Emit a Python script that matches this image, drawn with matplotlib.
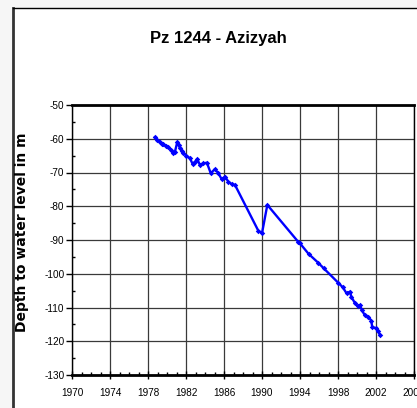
import numpy as np
import matplotlib
matplotlib.use("Agg")
import matplotlib.pyplot as plt
from matplotlib.patches import Rectangle
from matplotlib.lines import Line2D
from matplotlib.ticker import MultipleLocator

plt.rcParams["axes.unicode_minus"] = False

# ── Daten ─────────────────────────────────────────────────────────────────────
years = [1978.70, 1978.95, 1979.26, 1979.45, 1979.60, 1979.85, 1980.10, 1980.40,
         1980.67, 1980.84, 1981.09, 1981.25, 1981.37, 1981.55, 1981.72, 1982.05,
         1982.42, 1982.70, 1982.95, 1983.20, 1983.47, 1983.80, 1984.20, 1984.60,
         1985.05, 1985.40, 1985.76, 1986.10, 1986.45, 1986.80, 1987.16,
         1989.60, 1990.00, 1990.56, 1993.80, 1994.00, 1994.90, 1995.90, 1996.50,
         1998.00, 1998.50, 1998.90, 1999.26, 1999.40, 1999.80, 2000.10, 2000.30,
         2000.50, 2000.80, 2001.20, 2001.50, 2001.60, 2002.00, 2002.25, 2002.40]
depth = [-59.6, -60.3, -60.9, -61.5, -61.6, -62.0, -62.4, -63.2,
         -64.3, -63.8, -60.9, -61.8, -62.8, -63.6, -64.3, -65.0,
         -65.8, -67.5, -66.8, -66.1, -67.8, -67.3, -67.1, -70.2,
         -69.0, -70.2, -72.0, -71.2, -72.7, -73.4, -73.7,
         -87.2, -88.0, -79.6, -90.5, -91.0, -94.1, -96.7, -98.4,
         -102.6, -104.0, -105.8, -105.3, -106.8, -108.8, -109.6, -109.3,
         -110.7, -112.2, -112.7, -113.9, -115.7, -116.2, -116.9, -118.2]

title = "Pz 1244 - Azizyah"
ylabel = "Depth to water level in m"
xticks = list(range(1970, 2007, 4))
yticks = list(range(-130, -49, 10))

NARROW = ["Liberation Sans Narrow", "Liberation Sans", "DejaVu Sans"]

fig = plt.figure(figsize=(4.17, 4.08), dpi=100, facecolor="#f6f6f6")

# Rahmen
fig.patches.append(Rectangle((13 / 417, 0), 1, 1 - 7.5 / 408, transform=fig.transFigure,
                             facecolor="white", edgecolor="none", zorder=-10))
fig.lines.append(Line2D([13 / 417, 13 / 417], [0, 1 - 7.5 / 408], transform=fig.transFigure,
                        color="#333333", lw=2, zorder=-5))
fig.lines.append(Line2D([13 / 417, 1], [1 - 7.5 / 408, 1 - 7.5 / 408], transform=fig.transFigure,
                        color="black", lw=1, zorder=-5))

ax = fig.add_axes([72 / 417, 1 - 375 / 408, 342 / 417, 270 / 408], zorder=5)
ax.plot(years, depth, color="#0000ff", lw=1.7, marker="D", ms=2.8, mew=0)

ax.set_xlim(1970, 2006)
ax.set_ylim(-130, -50)
ax.set_xticks(xticks)
ax.set_yticks(yticks)
ax.xaxis.set_minor_locator(MultipleLocator(1))
ax.yaxis.set_minor_locator(MultipleLocator(5))
ax.tick_params(axis="x", which="major", direction="inout", length=6, width=1, pad=6)
ax.tick_params(axis="x", which="minor", direction="in", length=2.5, width=1)
ax.tick_params(axis="y", which="major", direction="out", length=4, width=1, pad=1.5)
ax.tick_params(axis="y", which="minor", direction="in", length=2, width=1)
for lab in ax.get_xticklabels() + ax.get_yticklabels():
    lab.set_family(NARROW)
    lab.set_fontsize(7.2)

ax.grid(True, which="major", color="#3a3a3a", lw=0.9)
ax.set_axisbelow(True)
ax.spines["top"].set_linewidth(2)
ax.spines["bottom"].set_linewidth(2)
ax.spines["left"].set_linewidth(1)
ax.spines["right"].set_linewidth(1)

fig.text(218 / 417, 1 - 39 / 408, title, ha="center", va="center",
         fontsize=12, fontweight="bold", family=NARROW)
fig.text(22 / 417, 1 - 232 / 408, ylabel, ha="center", va="center", rotation=90,
         fontsize=10, fontweight="bold", family="DejaVu Sans")

fig.savefig("out.png", dpi=100, facecolor=fig.get_facecolor())
